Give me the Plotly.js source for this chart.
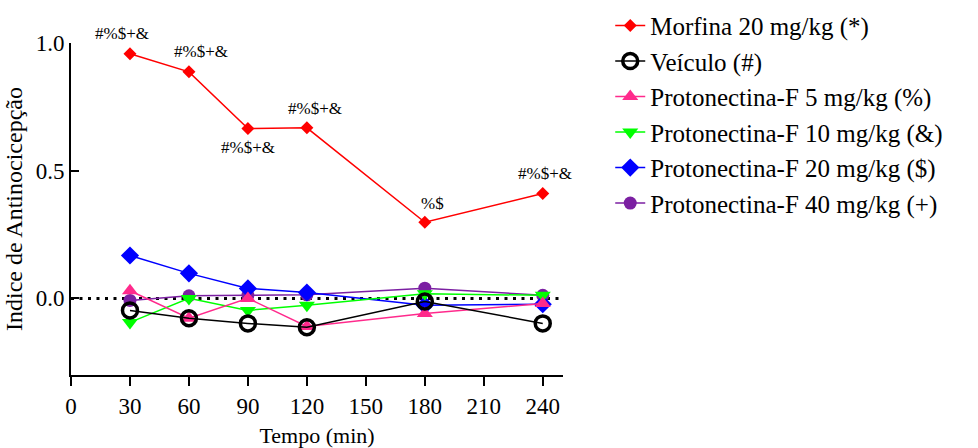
<!DOCTYPE html>
<html>
<head>
<meta charset="utf-8">
<script src="https://cdn.plot.ly/plotly-3.0.1.min.js"></script>
<style>html,body{margin:0;padding:0;background:#fff;}#chart{width:978px;height:448px;}</style>
</head>
<body>
<div id="chart"></div>
<script>
const tempo = [30, 60, 90, 120, 180, 240];
const morfina = [0.958, 0.887, 0.665, 0.668, 0.298, 0.411];
const veiculo = [-0.047, -0.078, -0.098, -0.113, -0.012, -0.098];
const prot5 = [0.030, -0.078, 0.000, -0.110, -0.059, -0.020];
const prot10 = [-0.094, 0.000, -0.047, -0.027, 0.018, 0.012];
const prot20 = [0.168, 0.098, 0.039, 0.023, -0.027, -0.023];
const prot40 = [-0.008, 0.010, 0.012, 0.014, 0.040, 0.012];

const names = ["Morfina 20 mg/kg (*)", "Veículo (#)", "Protonectina-F 5 mg/kg (%)",
  "Protonectina-F 10 mg/kg (&)", "Protonectina-F 20 mg/kg ($)", "Protonectina-F 40 mg/kg (+)"];

const annoX = [26, 66, 90, 124, 184, 241];
const annoY = [1.0, 0.965, 0.59, 0.745, 0.37, 0.488];
const annoShift = [10, 0, 0, 0, 0, 0];
const annoText = ["#%$+&", "#%$+&", "#%$+&", "#%$+&", "%$", "#%$+&"];

const FONT = "'Liberation Serif', 'Times New Roman', serif";

const traces = [
  {x: tempo, y: prot40, name: names[5], legendrank: 6, mode: "lines+markers",
   line: {color: "#7B1FA2", width: 1.5}, marker: {symbol: "circle", size: 13, color: "#7B1FA2"}},
  {x: tempo, y: prot20, name: names[4], legendrank: 5, mode: "lines+markers",
   line: {color: "#0000FF", width: 1.5}, marker: {symbol: "diamond", size: 14, color: "#0000FF"}},
  {x: tempo, y: prot10, name: names[3], legendrank: 4, mode: "lines+markers",
   line: {color: "#00FF00", width: 1.5}, marker: {symbol: "triangle-down", size: 14, color: "#00FF00"}},
  {x: tempo, y: prot5, name: names[2], legendrank: 3, mode: "lines+markers",
   line: {color: "#FF2A8C", width: 1.5}, marker: {symbol: "triangle-up", size: 14, color: "#FF2A8C"}},
  {x: tempo, y: veiculo, name: names[1], legendrank: 2, mode: "lines+markers",
   line: {color: "#000000", width: 1.5}, marker: {symbol: "circle-open", size: 15, color: "#000000", line: {width: 3.5, color: "#000000"}}},
  {x: tempo, y: morfina, name: names[0], legendrank: 1, mode: "lines+markers",
   line: {color: "#FF0000", width: 1.5}, marker: {symbol: "diamond", size: 10, color: "#FF0000"}}
];

const annotations = annoText.map((t, i) => ({
  x: annoX[i], y: annoY[i], yshift: annoShift[i], xref: "x", yref: "y", text: t, showarrow: false,
  font: {family: FONT, size: 17, color: "#000"}
}));

const layout = {
  width: 978, height: 448,
  margin: {l: 71, r: 415, t: 43, b: 73, autoexpand: false},
  paper_bgcolor: "#fff", plot_bgcolor: "#fff",
  font: {family: FONT, color: "#000"},
  showlegend: true,
  legend: {x: 1.096, y: 1.121, xanchor: "left", yanchor: "top",
    font: {family: FONT, size: 25, color: "#000"}, bgcolor: "rgba(0,0,0,0)", tracegroupgap: 0},
  xaxis: {range: [0, 250.3], tickvals: [0, 30, 60, 90, 120, 150, 180, 210, 240],
    ticks: "outside", ticklen: 9, tickwidth: 2, tickcolor: "#000",
    showline: true, linecolor: "#000", linewidth: 2, showgrid: false, zeroline: false,
    tickfont: {family: FONT, size: 23, color: "#000"},
    title: {text: "Tempo (min)", font: {family: FONT, size: 22, color: "#000"}, standoff: 10}},
  yaxis: {range: [-0.3, 1.0], tickvals: [0, 0.5, 1.0], ticktext: ["0.0", "0.5", "1.0"],
    ticks: "inside", ticklen: 8, tickwidth: 2, tickcolor: "#000",
    showline: true, linecolor: "#000", linewidth: 2, showgrid: false, zeroline: false,
    tickfont: {family: FONT, size: 23, color: "#000"},
    title: {text: "Indice de Antinocicepção", font: {family: FONT, size: 24, color: "#000"}, standoff: 6}},
  shapes: [{type: "line", xref: "paper", yref: "y", x0: 0, x1: 1, y0: 0, y1: 0,
    line: {color: "#000", width: 3, dash: "3px,5.5px"}, layer: "below"}],
  annotations: annotations
};

Plotly.newPlot("chart", traces, layout, {displayModeBar: false, staticPlot: true});
</script>
</body>
</html>
